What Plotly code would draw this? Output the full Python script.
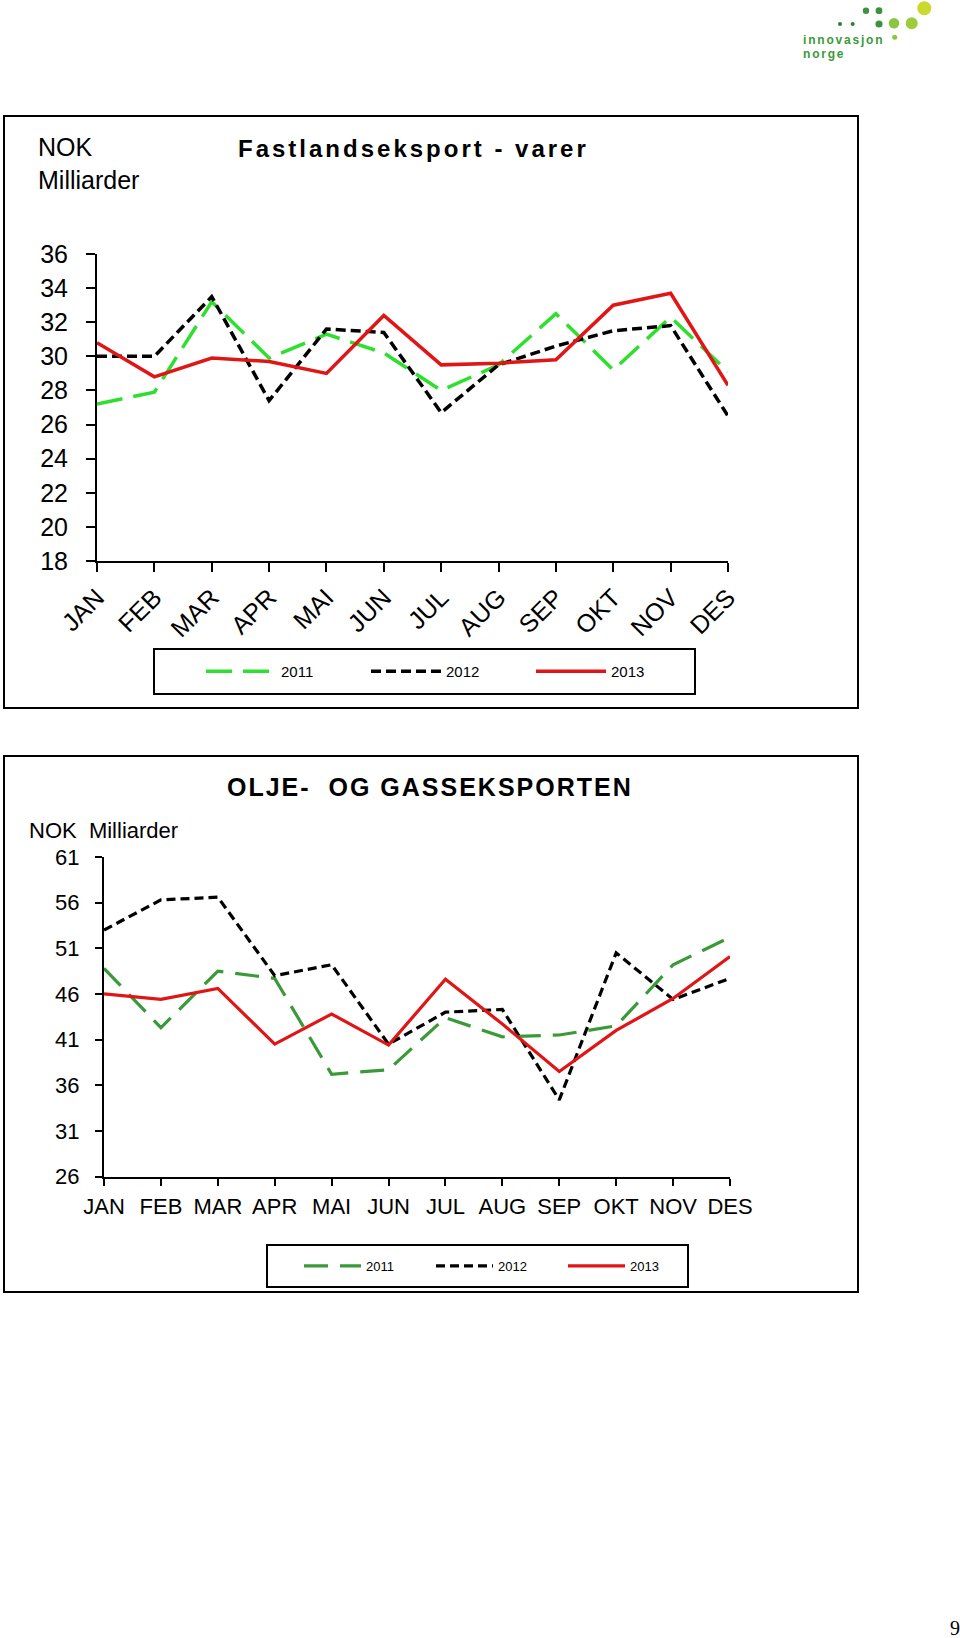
import plotly.graph_objects as go

W, H = 960, 1638

# ---------------- data ----------------
months = ["JAN", "FEB", "MAR", "APR", "MAI", "JUN", "JUL", "AUG", "SEP", "OKT", "NOV", "DES"]
years = ["2011", "2012", "2013"]

fast_2011 = [27.2, 27.9, 33.2, 29.9, 31.3, 30.2, 28.0, 29.5, 32.5, 29.2, 32.3, 29.1]
fast_2012 = [30.0, 30.0, 33.5, 27.4, 31.6, 31.4, 26.7, 29.5, 30.6, 31.5, 31.8, 26.5]
fast_2013 = [30.8, 28.8, 29.9, 29.7, 29.0, 32.4, 29.5, 29.6, 29.8, 33.0, 33.7, 28.3]

olje_2011 = [48.8, 42.3, 48.5, 47.7, 37.2, 37.7, 43.4, 41.3, 41.5, 42.5, 49.2, 52.2]
olje_2012 = [53.0, 56.3, 56.6, 48.0, 49.2, 40.5, 44.0, 44.3, 34.4, 50.5, 45.4, 47.7]
olje_2013 = [46.0, 45.4, 46.6, 40.5, 43.8, 40.4, 47.6, 42.7, 37.5, 42.0, 45.5, 50.1]

FONT = "Liberation Sans, Arial, sans-serif"


def px(x):
    return x / W


def py(y):
    return 1 - y / H


fig = go.Figure()

styles1 = [
    (fast_2011, dict(color="#2ee02e", width=3.5, dash="26px,11px")),
    (fast_2012, dict(color="#000000", width=3.5, dash="10px,5px")),
    (fast_2013, dict(color="#e01616", width=3.5)),
]
for (vals, ln), yr in zip(styles1, years):
    fig.add_trace(go.Scatter(x=months, y=vals, mode="lines", name=yr, line=ln,
                             xaxis="x", yaxis="y", legend="legend"))

styles2 = [
    (olje_2011, dict(color="#3a9a3a", width=3.2, dash="24px,12px")),
    (olje_2012, dict(color="#000000", width=3.2, dash="9px,5px")),
    (olje_2013, dict(color="#e01616", width=3.2)),
]
for (vals, ln), yr in zip(styles2, years):
    fig.add_trace(go.Scatter(x=months, y=vals, mode="lines", name=yr, line=ln,
                             xaxis="x2", yaxis="y2", legend="legend2"))

axis_common = dict(showline=True, linecolor="black", linewidth=2, ticks="outside",
                   tickcolor="black", tickwidth=2, showgrid=False, zeroline=False,
                   automargin=False)

fig.update_layout(
    template="none",
    width=W, height=H,
    margin=dict(l=0, r=0, t=0, b=0, pad=0, autoexpand=False),
    paper_bgcolor="white", plot_bgcolor="white",
    font=dict(family=FONT, color="black"),
    xaxis=dict(domain=[px(97), px(728)], anchor="y", type="category", range=[0, 11],
               tickangle=-45, ticklen=9, tickfont=dict(size=25), ticklabelstandoff=1,
               **axis_common),
    yaxis=dict(domain=[py(561), py(254)], anchor="x", range=[18, 36], tick0=18, dtick=2,
               ticklen=9, tickfont=dict(size=25), ticklabelstandoff=13, **axis_common),
    xaxis2=dict(domain=[px(104), px(730)], anchor="y2", type="category", range=[0, 11],
                tickangle=0, ticklen=7, tickfont=dict(size=22), ticklabelstandoff=2,
                **axis_common),
    yaxis2=dict(domain=[py(1176.5), py(857)], anchor="x2", range=[26, 61], tick0=26, dtick=5,
                ticklen=7, tickfont=dict(size=22), ticklabelstandoff=11, **axis_common),
    legend=dict(orientation="h", x=px(201), y=py(671.5), xanchor="left", yanchor="middle",
                bgcolor="rgba(0,0,0,0)", borderwidth=0, font=dict(size=15),
                itemwidth=70, entrywidth=80, entrywidthmode="pixels"),
    legend2=dict(orientation="h", x=px(299), y=py(1266), xanchor="left", yanchor="middle",
                 bgcolor="rgba(0,0,0,0)", borderwidth=0, font=dict(size=13),
                 itemwidth=57, entrywidth=60, entrywidthmode="pixels"),
    showlegend=True,
)

shapes = []
for (x0, y0, x1, y1, w) in [(4, 116, 858, 708, 2), (4, 756, 858, 1292, 2),
                             (154, 649, 695, 694, 2), (267, 1245, 688, 1287, 2)]:
    shapes.append(dict(type="rect", xref="paper", yref="paper", x0=px(x0), x1=px(x1),
                       y0=py(y1), y1=py(y0), line=dict(color="black", width=w),
                       fillcolor="rgba(0,0,0,0)", layer="below"))
dots = [(840, 24, 2, "#2f7d32"), (852.7, 24, 2, "#2f7d32"),
        (866, 10.7, 3.2, "#3d9140"), (879, 10.7, 3.4, "#3d9140"), (879, 24, 3.6, "#3d9140"),
        (894, 23.3, 5.3, "#8cc63f"), (911.7, 23.3, 6, "#9ccb3b"), (924.3, 8.3, 7, "#c9d92e"),
        (894.7, 37.3, 2.5, "#8cc63f")]
for cx, cy, r, c in dots:
    shapes.append(dict(type="circle", xref="paper", yref="paper", x0=px(cx - r), x1=px(cx + r),
                       y0=py(cy + r), y1=py(cy - r), fillcolor=c, line=dict(width=0)))
fig.update_layout(shapes=shapes)

ann = [
    dict(text="NOK<br>Milliarder", x=px(36), y=py(164), xanchor="left", yanchor="middle",
         align="left", font=dict(size=25)),
    dict(text='<span style="letter-spacing:3px"><b>Fastlandseksport - varer</b></span>',
         x=px(413), y=py(148), xanchor="center", yanchor="middle", font=dict(size=24)),
    dict(text='<span style="letter-spacing:2px"><b>OLJE-  OG GASSEKSPORTEN</b></span>',
         x=px(430), y=py(787), xanchor="center", yanchor="middle", font=dict(size=25)),
    dict(text="NOK  Milliarder", x=px(27), y=py(830), xanchor="left", yanchor="middle",
         font=dict(size=22)),
    dict(text='<span style="letter-spacing:1.8px"><b>innovasjon</b></span>', x=px(801), y=py(39.5),
         xanchor="left", yanchor="middle", font=dict(size=12, color="#3a9a3a")),
    dict(text='<span style="letter-spacing:1.8px"><b>norge</b></span>', x=px(801), y=py(54.5),
         xanchor="left", yanchor="middle", font=dict(size=12, color="#3a9a3a")),
    dict(text="9", x=px(954.5), y=py(1627.5), xanchor="center", yanchor="middle",
         font=dict(size=20, family="Liberation Serif, Times New Roman, serif")),
]
for a in ann:
    a.update(xref="paper", yref="paper", showarrow=False)
fig.update_layout(annotations=ann)

fig.write_html("out.html", config={"displayModeBar": False},
               post_script="document.body.style.margin='0px';")
